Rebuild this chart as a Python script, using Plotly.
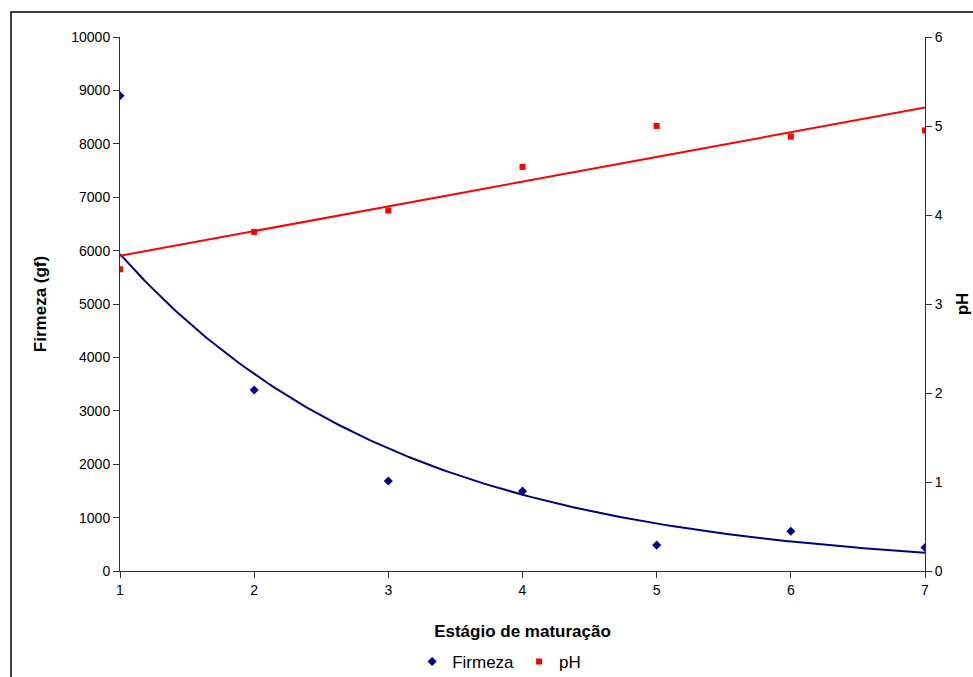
import numpy as np
import plotly.graph_objects as go

estagio = [1, 2, 3, 4, 5, 6, 7]
firmeza = [8900, 3390, 1685, 1495, 485, 745, 440]
ph = [3.39, 3.81, 4.05, 4.54, 5.0, 4.88, 4.95]

x = np.array(estagio, dtype=float)
# Exponential trendline (Excel-style: linear fit of ln y)
b, a = np.polyfit(x, np.log(firmeza), 1)
# Linear trendline for pH
m, c = np.polyfit(x, ph, 1)
xs = np.linspace(1, 7, 200)

FONT = "Liberation Sans, Arial, sans-serif"
fig = go.Figure()
fig.add_trace(go.Scatter(x=xs, y=np.exp(a + b * xs), mode="lines",
                         line=dict(color="#000080", width=2), showlegend=False, hoverinfo="skip"))
fig.add_trace(go.Scatter(x=xs, y=m * xs + c, mode="lines", yaxis="y2",
                         line=dict(color="#FF0000", width=2), showlegend=False, hoverinfo="skip"))
fig.add_trace(go.Scatter(x=estagio, y=firmeza, mode="markers", name="Firmeza",
                         marker=dict(symbol="diamond", color="#000080", size=7)))
fig.add_trace(go.Scatter(x=estagio, y=ph, mode="markers", name="pH", yaxis="y2",
                         marker=dict(symbol="square", color="#FF0000", size=6)))

axis_common = dict(showgrid=False, zeroline=False, showline=True, linecolor="#303030",
                   linewidth=1, ticks="outside", ticklen=6, tickcolor="#303030",
                   tickformat="d", automargin=False,
                   tickfont=dict(family=FONT, size=14, color="black"))

fig.update_layout(
    width=973, height=677,
    margin=dict(l=120, r=48, t=37, b=106),
    plot_bgcolor="white", paper_bgcolor="white",
    font=dict(family=FONT, size=14, color="black"),
    xaxis=dict(range=[1, 7], dtick=1, title=dict(text="<b>Estágio de maturação</b>",
               font=dict(family=FONT, size=17), standoff=28), **axis_common),
    yaxis=dict(range=[0, 10000], dtick=1000, title=dict(text="<b>Firmeza (gf)</b>",
               font=dict(family=FONT, size=17), standoff=20), **axis_common),
    yaxis2=dict(range=[0, 6], dtick=1, overlaying="y", side="right",
                title=dict(text="<b>pH</b>", font=dict(family=FONT, size=17), standoff=14),
                **axis_common),
    legend=dict(orientation="h", x=0.513, xanchor="center", xref="container",
                y=1 - 662 / 677, yanchor="middle", yref="container",
                font=dict(family=FONT, size=17), itemwidth=30, tracegroupgap=0),
    shapes=[dict(type="rect", xref="paper", yref="paper",
                 x0=(11 - 120) / 805, x1=(1000 - 120) / 805,
                 y0=(571 - 700) / 534, y1=(571 - 12) / 534,
                 line=dict(color="black", width=1.5), fillcolor="rgba(0,0,0,0)")],
)
fig.write_html("out.html")
